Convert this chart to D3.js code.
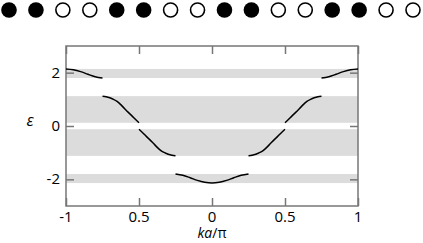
<!DOCTYPE html>
<html>
<head>
<meta charset="utf-8">
<script src="https://cdn.jsdelivr.net/npm/d3@7"></script>
<style>
  body { margin: 0; background: #fff; }
  text { font-family: "Open Sans", "Noto Sans", sans-serif; }
</style>
</head>
<body>
<svg width="423" height="243"></svg>
<script>
// atoms along the chain: 1 = filled, 0 = open
const atoms = [1, 1, 0, 0, 1, 1, 0, 0, 1, 1, 0, 0, 1, 1, 0, 0]

// band segments (ka/pi, energy)
const band1K = [-0.25, -0.2, -0.15, -0.1, -0.05, 0, 0.05, 0.1, 0.15, 0.2, 0.25]
const band1E = [-1.8, -1.85, -1.94, -2.04, -2.11, -2.14, -2.11, -2.04, -1.94, -1.85, -1.8]

const band2K = [0.25, 0.275, 0.3, 0.325, 0.35, 0.375, 0.4, 0.425, 0.45, 0.475, 0.5]
const band2E = [-1.12, -1.1, -1.06, -1.0, -0.92, -0.8, -0.66, -0.52, -0.39, -0.25, -0.12]

const band3K = [0.5, 0.525, 0.55, 0.575, 0.6, 0.625, 0.65, 0.675, 0.7, 0.725, 0.75]
const band3E = [0.12, 0.25, 0.39, 0.52, 0.66, 0.8, 0.92, 1.0, 1.06, 1.1, 1.12]

const band4K = [0.75, 0.8, 0.85, 0.9, 0.95, 1]
const band4E = [1.8, 1.85, 1.94, 2.04, 2.11, 2.14]

const xTicks = [-1, -0.5, 0, 0.5, 1]
const xTickLabels = ["-1", "0.5", "0", "0.5", "1"]
const yTicks = [-2, 0, 2]
const yTickLabels = ["-2", "0", "2"]

const svg = d3.select("svg")

const xScale = d3.scaleLinear().domain([-1, 1]).range([66, 358])
const yScale = d3.scaleLinear().domain([-3, 3]).range([206, 46])
const atomScale = d3.scaleLinear().domain([0, atoms.length - 1]).range([9, 413])

// chain of atoms
svg.append("g")
    .selectAll("circle")
    .data(atoms)
    .enter()
    .append("circle")
    .attr("cx", (d, i) => atomScale(i))
    .attr("cy", 10)
    .attr("r", d => d ? 7.8 : 7)
    .attr("fill", d => d ? "black" : "white")
    .attr("stroke", d => d ? "none" : "black")
    .attr("stroke-width", 1.6)

function zip(ks, es) { return ks.map((k, i) => ({k: k, e: es[i]})) }

const segments = [
    zip(band1K, band1E),
    zip(band2K, band2E),
    zip(band2K.map(k => -k), band2E),
    zip(band3K, band3E),
    zip(band3K.map(k => -k), band3E),
    zip(band4K, band4E),
    zip(band4K.map(k => -k), band4E)
]

// allowed energy bands (grey)
const bands = [band1E, band2E, band3E, band4E].map(es => d3.extent(es))
svg.append("g")
    .selectAll("rect")
    .data(bands)
    .enter()
    .append("rect")
    .attr("x", xScale(-1))
    .attr("width", xScale(1) - xScale(-1))
    .attr("y", d => yScale(d[1]))
    .attr("height", d => yScale(d[0]) - yScale(d[1]))
    .attr("fill", "#dcdcdc")

// axes, ticks inside
const axisColor = "#777"
const xAxisB = d3.axisTop(xScale).tickValues(xTicks).tickSize(8).tickFormat("")
const xAxisT = d3.axisBottom(xScale).tickValues(xTicks).tickSize(8).tickFormat("")
const yAxisL = d3.axisRight(yScale).tickValues(yTicks).tickSize(8).tickFormat("")
const yAxisR = d3.axisLeft(yScale).tickValues(yTicks).tickSize(8).tickFormat("")

svg.append("g").attr("class", "ax").attr("transform", "translate(0,206)").call(xAxisB)
svg.append("g").attr("class", "ax").attr("transform", "translate(0,46)").call(xAxisT)
svg.append("g").attr("class", "ax").attr("transform", "translate(66,0)").call(yAxisL)
svg.append("g").attr("class", "ax").attr("transform", "translate(358,0)").call(yAxisR)

svg.selectAll("g.ax path.domain").remove()
svg.selectAll("g.ax line").attr("stroke", axisColor).attr("stroke-width", 1.5)

svg.append("rect")
    .attr("x", 66).attr("y", 46)
    .attr("width", 292).attr("height", 160)
    .attr("fill", "none")
    .attr("stroke", axisColor)
    .attr("stroke-width", 1.5)

// dispersion curves
const line = d3.line()
    .x(d => xScale(d.k))
    .y(d => yScale(d.e))
    .curve(d3.curveMonotoneX)

svg.append("g")
    .selectAll("path")
    .data(segments.map(s => s.slice().sort((a, b) => a.k - b.k)))
    .enter()
    .append("path")
    .attr("d", d => line(d))
    .attr("fill", "none")
    .attr("stroke", "black")
    .attr("stroke-width", 1.5)

// tick labels
svg.append("g")
    .selectAll("text")
    .data(xTicks)
    .enter()
    .append("text")
    .attr("x", d => xScale(d))
    .attr("y", 222)
    .attr("text-anchor", "middle")
    .attr("font-size", 15)
    .text((d, i) => xTickLabels[i])

svg.append("g")
    .selectAll("text")
    .data(yTicks)
    .enter()
    .append("text")
    .attr("x", 60)
    .attr("y", d => yScale(d) + 5)
    .attr("text-anchor", "end")
    .attr("font-size", 15)
    .text((d, i) => yTickLabels[i])

// axis titles
const xTitle = svg.append("text")
    .attr("x", xScale(0))
    .attr("y", 238)
    .attr("text-anchor", "middle")
    .attr("font-size", 14)
xTitle.append("tspan").attr("font-style", "italic").text("ka")
xTitle.append("tspan").text("/π")

svg.append("text")
    .attr("x", 30)
    .attr("y", 126)
    .attr("text-anchor", "middle")
    .attr("font-size", 16)
    .attr("font-style", "italic")
    .text("ε")
</script>
</body>
</html>
